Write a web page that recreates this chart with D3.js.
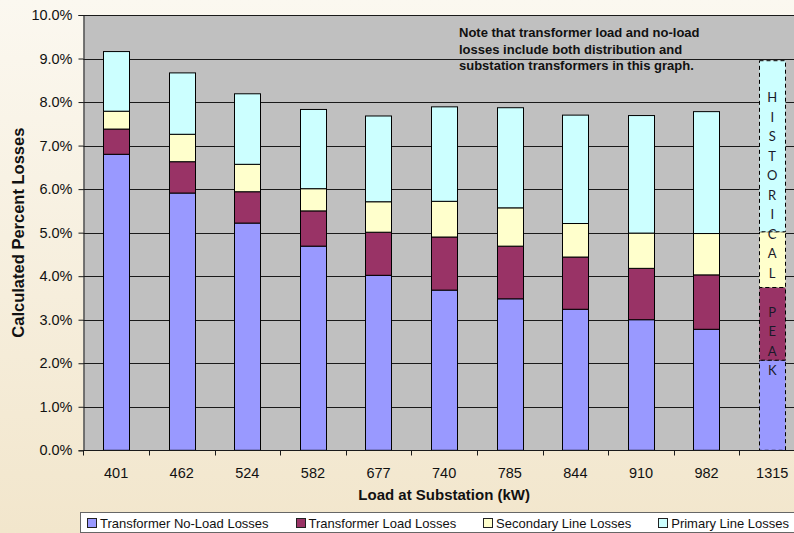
<!DOCTYPE html>
<html>
<head>
<meta charset="utf-8">
<script src="https://cdn.jsdelivr.net/npm/d3@7"></script>
<style>
  html, body { margin: 0; padding: 0; background: #fff; }
  svg { display: block; }
  text { font-family: "Liberation Sans", Arial, Helvetica, sans-serif; }
</style>
</head>
<body>
<svg id="chart" width="794" height="533"></svg>
<script>
// ---- data ----
const categories = ["401", "462", "524", "582", "677", "740", "785", "844", "910", "982", "1315"];
const noLoadLosses    = [6.80, 5.91, 5.22, 4.69, 4.02, 3.68, 3.48, 3.24, 3.00, 2.78, 2.07];
const loadLosses      = [0.58, 0.72, 0.72, 0.81, 0.99, 1.22, 1.21, 1.20, 1.18, 1.25, 1.67];
const secondaryLosses = [0.41, 0.63, 0.63, 0.51, 0.70, 0.82, 0.88, 0.77, 0.81, 0.95, 1.28];
const primaryLosses   = [1.37, 1.41, 1.62, 1.82, 1.97, 2.17, 2.30, 2.49, 2.70, 2.80, 3.93];
const seriesNames = ["Transformer No-Load Losses", "Transformer Load Losses", "Secondary Line Losses", "Primary Line Losses"];
const yTicks = [0, 1, 2, 3, 4, 5, 6, 7, 8, 9, 10];
const historicalCategory = "1315";
const historicalLabel = "HISTORICAL PEAK";
const noteLines = ["Note that transformer load and no-load", "losses include both distribution and", "substation transformers in this graph."];
const xTitle = "Load at Substation (kW)";
const yTitle = "Calculated Percent Losses";

const colors = ["#9999FF", "#993366", "#FFFFCC", "#CCFFFF"];

// ---- layout ----
const svg = d3.select("#chart");
const plotLeft = 83.3, plotRight = 805, plotTop = 15, plotBottom = 450.3;

const defs = svg.append("defs");
const grad = defs.append("linearGradient").attr("id", "bg").attr("x1", 0).attr("y1", 0).attr("x2", 0).attr("y2", 1);
grad.append("stop").attr("offset", "0%").attr("stop-color", "#FBF8F0");
grad.append("stop").attr("offset", "100%").attr("stop-color", "#F2E6CC");
svg.append("rect").attr("width", 794).attr("height", 533).attr("fill", "url(#bg)");

const x = d3.scaleBand().domain(categories).range([plotLeft, plotRight]).paddingInner(0.6).paddingOuter(0.3);
const y = d3.scaleLinear().domain([0, 10]).range([plotBottom, plotTop]);

// plot area
svg.append("rect").attr("x", plotLeft).attr("y", plotTop).attr("width", plotRight - plotLeft).attr("height", plotBottom - plotTop)
  .attr("fill", "#C0C0C0");

// gridlines
svg.append("g").selectAll("line").data(yTicks.filter(d => d > 0)).join("line")
  .attr("x1", plotLeft).attr("x2", plotRight)
  .attr("y1", d => Math.round(y(d)) + 0.5).attr("y2", d => Math.round(y(d)) + 0.5)
  .attr("stroke", "#1a1a1a").attr("stroke-width", 1);

// stacked data
const rows = categories.map((c, i) => ({
  cat: c,
  s0: noLoadLosses[i], s1: loadLosses[i], s2: secondaryLosses[i], s3: primaryLosses[i]
}));
const stack = d3.stack().keys(["s0", "s1", "s2", "s3"]);
const stacked = stack(rows);

const barsG = svg.append("g");
stacked.forEach((layer, li) => {
  barsG.selectAll(null).data(layer).join("rect")
    .attr("x", d => Math.round(x(d.data.cat)) + 0.5)
    .attr("y", d => y(d[1]))
    .attr("width", Math.round(x.bandwidth()))
    .attr("height", d => y(d[0]) - y(d[1]))
    .attr("fill", colors[li])
    .attr("stroke", "#000")
    .attr("stroke-width", 1)
    .attr("stroke-dasharray", d => d.data.cat === historicalCategory ? "4,3" : null);
});

// historical label stacked letters
const hx = x(historicalCategory) + x.bandwidth() / 2;
const letters = historicalLabel.split("");
svg.append("g").selectAll("text").data(letters).join("text")
  .attr("x", hx)
  .attr("y", (d, i) => 97.3 + i * 19.5)
  .attr("text-anchor", "middle")
  .attr("dominant-baseline", "central")
  .style("font-family", "Lato, 'Open Sans', sans-serif")
  .style("font-size", "13px")
  .attr("fill", "#1a1a2a")
  .text(d => d);

// axes
const yAxis = d3.axisLeft(y).tickValues(yTicks).tickSize(5).tickPadding(6).tickFormat(d => d.toFixed(1) + "%");
const yg = svg.append("g").attr("transform", `translate(${Math.round(plotLeft) + 0.5},0)`).call(yAxis);
yg.select(".domain").attr("stroke", "#1a1a1a");
yg.selectAll(".tick line").attr("stroke", "#1a1a1a");
yg.selectAll(".tick text").style("font-size", "14.5px").attr("fill", "#111").style("font-family", "'Liberation Sans', Arial, sans-serif");

const xAxis = d3.axisBottom(x).tickSize(0).tickPadding(17);
const xg = svg.append("g").attr("transform", `translate(0,${Math.round(plotBottom) + 0.5})`).call(xAxis);
xg.select(".domain").attr("stroke", "#1a1a1a").attr("d", `M${plotLeft},0H${plotRight}`);
xg.selectAll(".tick text").style("font-size", "14.5px").attr("fill", "#111").style("font-family", "'Liberation Sans', Arial, sans-serif");
// boundary ticks between categories
const boundaries = categories.map(c => x(c) + x.bandwidth() / 2 - x.step() / 2);
xg.selectAll(".btick").data(boundaries).join("line").attr("class", "btick")
  .attr("x1", d => Math.round(d) + 0.5).attr("x2", d => Math.round(d) + 0.5)
  .attr("y1", 0).attr("y2", 5).attr("stroke", "#1a1a1a");

// axis titles
svg.append("text").attr("x", (plotLeft + plotRight) / 2).attr("y", 500)
  .attr("text-anchor", "middle").style("font-size", "15px").style("font-weight", "bold").attr("fill", "#111")
  .text(xTitle);
svg.append("text").attr("transform", `translate(24,${(plotTop + plotBottom) / 2}) rotate(-90)`)
  .attr("text-anchor", "middle").style("font-size", "16.5px").style("font-weight", "bold").attr("fill", "#111")
  .text(yTitle);

// note
svg.append("g").selectAll("text").data(noteLines).join("text")
  .attr("x", 459).attr("y", (d, i) => 37.3 + i * 16.25)
  .style("font-size", "13px").style("font-weight", "bold").attr("fill", "#111")
  .text(d => d);

// legend
const legG = svg.append("g");
legG.append("rect").attr("x", 80.5).attr("y", 512.5).attr("width", 740).attr("height", 20)
  .attr("fill", "#fff").attr("stroke", "#666");
const items = legG.selectAll("g.item").data(seriesNames).join("g").attr("class", "item");
items.append("rect").attr("width", 9).attr("height", 9).attr("y", 518.5)
  .attr("fill", (d, i) => colors[i]).attr("stroke", "#222");
items.append("text").attr("y", 527.5).style("font-size", "13px").attr("fill", "#111").text(d => d);
const widths = [];
items.each(function () { widths.push(d3.select(this).select("text").node().getComputedTextLength()); });
const startX = 87, endX = 789;
const total = widths.reduce((a, w) => a + 13 + w, 0);
const gap = (endX - startX - total) / (seriesNames.length - 1);
let cx = startX;
items.each(function (d, i) {
  const g = d3.select(this);
  g.select("rect").attr("x", Math.round(cx) + 0.5);
  g.select("text").attr("x", cx + 13);
  cx += 13 + widths[i] + gap;
});
</script>
</body>
</html>
